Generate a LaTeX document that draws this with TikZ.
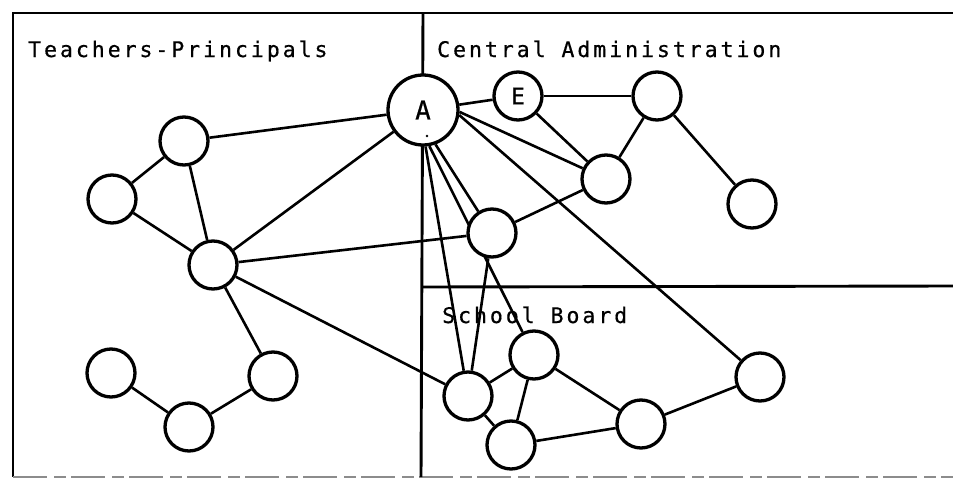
\documentclass[tikz,border=0pt]{standalone}
\usepackage{fontspec}
\newfontfamily\regionfont[LetterSpace=13.8,FakeBold=0.6]{DejaVu Sans Mono}
\newfontfamily\markfont[FakeBold=0.6]{DejaVu Sans Mono}
\usetikzlibrary{backgrounds}

\begin{document}
\begin{tikzpicture}[x=1pt,y=-1pt,
  actor/.style={circle,draw,line width=3.3pt,fill=white,minimum size=48pt,inner sep=0pt,
                font=\markfont\fontsize{23}{26}\selectfont},
  keyactor/.style={actor,minimum size=70pt,font=\markfont\fontsize{26}{30}\selectfont},
  tie/.style={line width=2.6pt},
  wall/.style={line width=2.9pt},
  edgeline/.style={line width=1.2pt,draw=black!45,dash pattern=on 34pt off 7pt on 12pt off 5pt},
  region/.style={anchor=base west,inner sep=0pt,font=\regionfont\fontsize{21.5}{24}\selectfont}]

\useasboundingbox (0,0) rectangle (953,479);

% frame and dividers
\coordinate (tl) at (13,13);
\coordinate (tr) at (953,13);
\coordinate (bl) at (13,477);
\coordinate (br) at (953,477);
\coordinate (vtop) at (423,13);
\coordinate (vbot) at (421,477);
\coordinate (hleft) at (421,287);
\coordinate (hright) at (953,286);

% region titles
\node[region] (tp) at (28,57) {Teachers-Principals};
\node[region] (ca) at (437,57) {Central Administration};
\node[region] (sb) at (442,323) {School Board};

% central administration
\node[keyactor] (A) at (423,110) {A};
\node[actor] (E) at (518,96) {E};
\node[actor] (c1) at (657,96) {};
\node[actor] (c2) at (606,179) {};
\node[actor] (c3) at (752,204) {};
\node[actor] (m) at (492,233) {};

% school board
\node[actor] (s1) at (468,396) {};
\node[actor] (s2) at (534,355) {};
\node[actor] (s3) at (511,445) {};
\node[actor] (s4) at (641,424) {};
\node[actor] (s5) at (760,377) {};

% teachers and principals
\node[actor] (t1) at (184,141) {};
\node[actor] (t2) at (112,199) {};
\node[actor] (t3) at (213,265) {};
\node[actor] (t4) at (273,376) {};
\node[actor] (t5) at (111,373) {};
\node[actor] (t6) at (189,427) {};

% small mark under the A
\fill (427,136) circle (1.4pt);

\begin{scope}[on background layer]
  % frame
  \draw[wall] (tr) -- (tl) -- (bl);
  \draw[edgeline] (bl) -- (br);
  \draw[wall] (vtop) -- (vbot);
  \draw[wall] (hleft) -- (hright);

  % links of the left group
  \draw[tie] (t1) -- (t2);
  \draw[tie] (t1) -- (t3);
  \draw[tie] (t2) -- (t3);
  \draw[tie] (t3) -- (t4);
  \draw[tie] (t4) -- (t6);
  \draw[tie] (t6) -- (t5);
  \draw[tie] (t1) -- (A);
  \draw[tie] (t3) -- (A);
  \draw[tie] (t3) -- (m);
  \draw[tie] (t3) -- (s1);

  % links of the administration
  \draw[tie] (A) -- (E);
  \draw[tie] (E) -- (c1);
  \draw[tie] (E) -- (c2);
  \draw[tie] (c1) -- (c2);
  \draw[tie] (c1) -- (c3);
  \draw[tie] (m) -- (c2);
  \draw[tie] (A.-3) -- (c2);
  \draw[tie] (A.-8) -- (s5);
  \draw[tie] (A.-70) -- (m);
  \draw[tie] (A.-80) -- (s2);
  \draw[tie] (A.-86) -- (s1);
  \draw[tie] (m) -- (s1);

  % links of the school board
  \draw[tie] (s1) -- (s2);
  \draw[tie] (s1) -- (s3);
  \draw[tie] (s2) -- (s3);
  \draw[tie] (s2) -- (s4);
  \draw[tie] (s3) -- (s4);
  \draw[tie] (s4) -- (s5);
\end{scope}
\end{tikzpicture}
\end{document}
